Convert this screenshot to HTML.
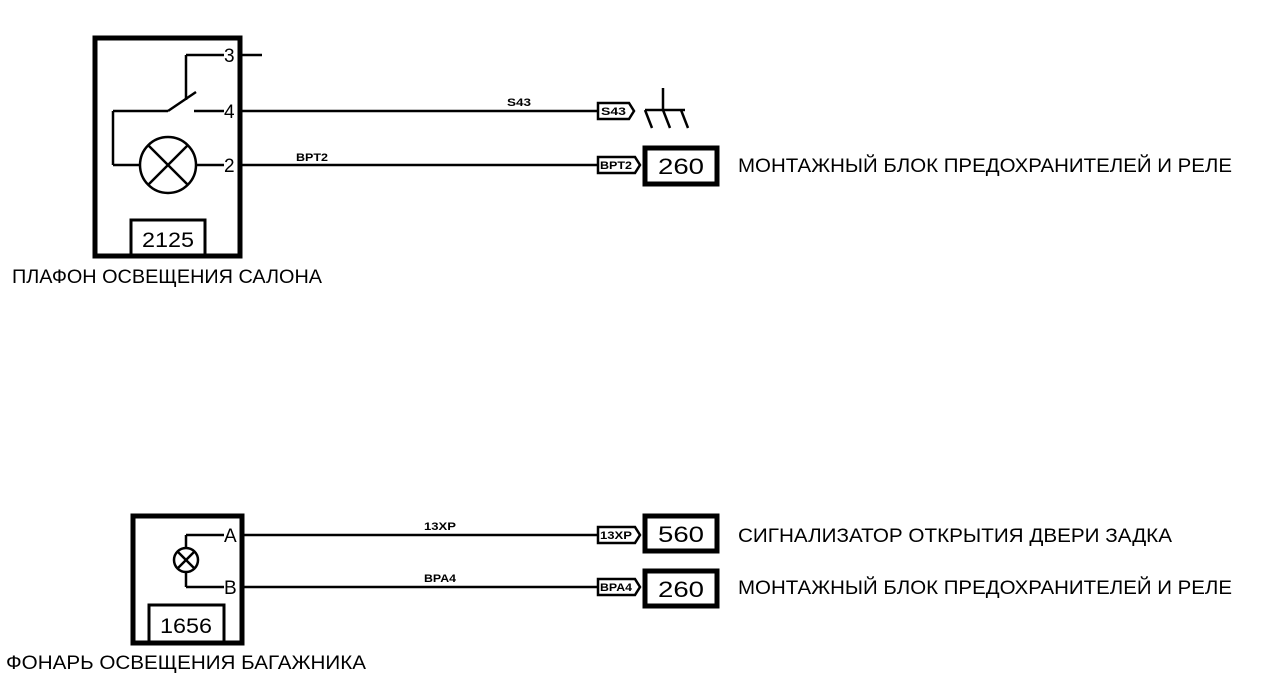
<!DOCTYPE html><html><head><meta charset="utf-8"><style>body{margin:0;background:#fff}svg{display:block}text{font-family:"Liberation Sans",sans-serif;fill:#000}</style></head><body>
<svg width="1271" height="700" viewBox="0 0 1271 700">
<g fill="none" stroke="#000">
<rect x="95" y="38" width="145" height="218" stroke-width="5"/>
<rect x="131" y="220" width="74" height="36" stroke-width="3"/>
<g stroke-width="2.5">
<line x1="186" y1="55" x2="224" y2="55"/><line x1="240" y1="55" x2="262" y2="55"/>
<line x1="186" y1="55" x2="186" y2="100"/>
<line x1="113" y1="111" x2="168" y2="111"/><line x1="168" y1="111" x2="196" y2="92"/>
<line x1="194" y1="111" x2="224" y2="111"/>
<line x1="113" y1="111" x2="113" y2="165"/><line x1="113" y1="165" x2="140" y2="165"/>
<circle cx="168" cy="165" r="28"/>
<line x1="148" y1="145" x2="188" y2="185"/><line x1="188" y1="145" x2="148" y2="185"/>
<line x1="196" y1="165" x2="224" y2="165"/>
<line x1="240" y1="111" x2="598" y2="111"/><line x1="240" y1="165" x2="598" y2="165"/>
<line x1="663" y1="88" x2="663" y2="110"/><line x1="645" y1="110" x2="685" y2="110"/>
<line x1="645" y1="110" x2="652" y2="128"/><line x1="663" y1="110" x2="670" y2="128"/><line x1="681" y1="110" x2="688" y2="128"/>
<path d="M598 103H629L634 111L629 119H598Z"/>
<path d="M598 157H635L640 165L635 173H598Z"/>
<path d="M598 527H635L640 535L635 543H598Z"/>
<path d="M598 579H635L640 587L635 595H598Z"/>
<line x1="240" y1="535" x2="598" y2="535"/><line x1="240" y1="587" x2="598" y2="587"/>
<line x1="186" y1="535" x2="224" y2="535"/><line x1="186" y1="587" x2="224" y2="587"/>
<line x1="186" y1="535" x2="186" y2="548"/><line x1="186" y1="572" x2="186" y2="587"/>
<circle cx="186" cy="560" r="12"/>
<line x1="178" y1="552" x2="194" y2="568"/><line x1="194" y1="552" x2="178" y2="568"/>
</g>
<rect x="645" y="148" width="72" height="36" stroke-width="5"/>
<rect x="645" y="516" width="72" height="35" stroke-width="5"/>
<rect x="645" y="571" width="72" height="35" stroke-width="5"/>
<rect x="133" y="516" width="109" height="127" stroke-width="5"/>
<rect x="149" y="605" width="75" height="38" stroke-width="3"/>
</g>
<g font-size="19">
<text x="224" y="62">3</text><text x="224" y="118">4</text><text x="224" y="172">2</text>
<text x="224" y="542">A</text><text x="224" y="594">B</text>
<text x="142" y="247" font-size="21" textLength="52" lengthAdjust="spacingAndGlyphs">2125</text>
<text x="160" y="633" font-size="21" textLength="52" lengthAdjust="spacingAndGlyphs">1656</text>
<text x="658" y="174" font-size="22" textLength="46" lengthAdjust="spacingAndGlyphs">260</text>
<text x="658" y="542" font-size="22" textLength="46" lengthAdjust="spacingAndGlyphs">560</text>
<text x="658" y="597" font-size="22" textLength="46" lengthAdjust="spacingAndGlyphs">260</text>
<text x="738" y="172" font-size="19" textLength="494" lengthAdjust="spacingAndGlyphs">МОНТАЖНЫЙ БЛОК ПРЕДОХРАНИТЕЛЕЙ И РЕЛЕ</text>
<text x="738" y="542" font-size="19" textLength="434" lengthAdjust="spacingAndGlyphs">СИГНАЛИЗАТОР ОТКРЫТИЯ ДВЕРИ ЗАДКА</text>
<text x="738" y="594" font-size="19" textLength="494" lengthAdjust="spacingAndGlyphs">МОНТАЖНЫЙ БЛОК ПРЕДОХРАНИТЕЛЕЙ И РЕЛЕ</text>
<text x="12" y="283" font-size="19" textLength="310" lengthAdjust="spacingAndGlyphs">ПЛАФОН ОСВЕЩЕНИЯ САЛОНА</text>
<text x="6" y="669" font-size="19" textLength="360" lengthAdjust="spacingAndGlyphs">ФОНАРЬ ОСВЕЩЕНИЯ БАГАЖНИКА</text>
</g>
<g font-size="11" font-weight="bold">
<text x="507" y="106" textLength="24" lengthAdjust="spacingAndGlyphs">S43</text><text x="296" y="161" textLength="32" lengthAdjust="spacingAndGlyphs">BPT2</text>
<text x="424" y="530" textLength="32" lengthAdjust="spacingAndGlyphs">13XP</text><text x="424" y="582" textLength="32" lengthAdjust="spacingAndGlyphs">BPA4</text>
<text x="601" y="115" textLength="25" lengthAdjust="spacingAndGlyphs">S43</text><text x="600" y="169" textLength="32" lengthAdjust="spacingAndGlyphs">BPT2</text>
<text x="600" y="539" textLength="32" lengthAdjust="spacingAndGlyphs">13XP</text><text x="600" y="591" textLength="32" lengthAdjust="spacingAndGlyphs">BPA4</text>
</g>
</svg></body></html>
